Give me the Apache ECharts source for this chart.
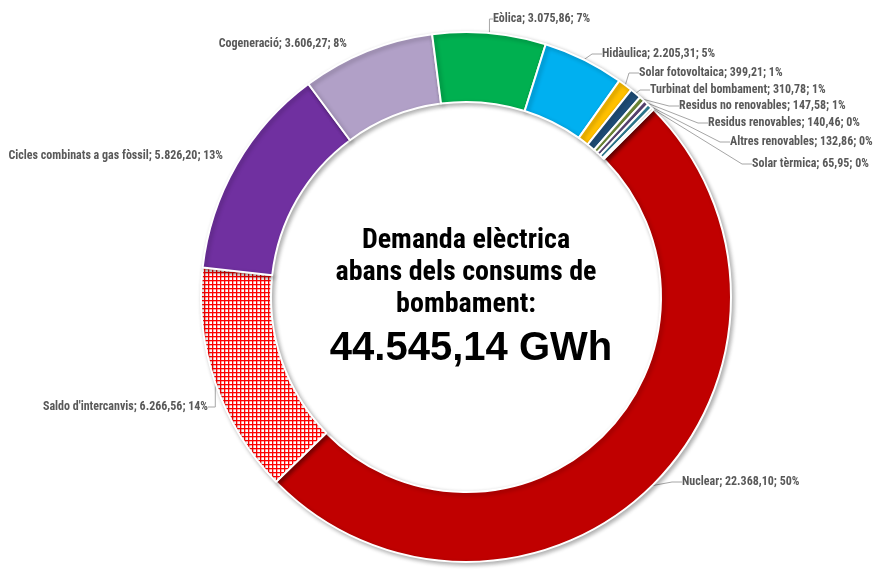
<!DOCTYPE html>
<html>
<head>
<meta charset="utf-8">
<script src="https://cdn.jsdelivr.net/npm/echarts@6/dist/echarts.min.js"></script>
<style>
html, body { margin: 0; background: #fff; }
#main { width: 875px; height: 572px; }
</style>
</head>
<body>
<div id="main"></div>
<script>
// dades del gràfic (GWh)
var noms = ['Nuclear', "Saldo d'intercanvis", 'Cicles combinats a gas fòssil', 'Cogeneració', 'Eòlica',
    'Hidàulica', 'Solar fotovoltaica', 'Turbinat del bombament', 'Residus no renovables',
    'Residus renovables', 'Altres renovables', 'Solar tèrmica'];
var valors = [22368.10, 6266.56, 5826.20, 3606.27, 3075.86, 2205.31, 399.21, 310.78, 147.58, 140.46, 132.86, 65.95];
var percents = ['50%', '14%', '13%', '8%', '7%', '5%', '1%', '1%', '1%', '0%', '0%', '0%'];
var colors = ['#C00000', null, '#7030A0', '#B1A0C7', '#00B050', '#00B0F0', '#FFC000', '#1F4E79',
    '#77933C', '#604A7B', '#31859C', '#DDD9C3'];

// on va cada etiqueta: [x, y, alineació]
var posEtiquetes = [[682, 482, 'left'], [208, 407, 'right'], [223, 156, 'right'], [347, 44, 'right'],
    [493, 19, 'left'], [602, 54, 'left'], [639, 73, 'left'], [650, 90, 'left'], [679, 106, 'left'],
    [708, 123, 'left'], [730, 142, 'left'], [752, 164, 'left']];
var senseLinia = [2, 3];

// trama quadriculada vermella per al saldo
var trama = document.createElement('canvas');
trama.width = 4;
trama.height = 4;
var ctx = trama.getContext('2d');
ctx.fillStyle = '#fff';
ctx.fillRect(0, 0, 4, 4);
ctx.fillStyle = '#FF0000';
ctx.fillRect(0, 0, 4, 1);
ctx.fillRect(0, 0, 1, 4);
ctx.fillStyle = 'rgba(255,0,0,0.3)';
ctx.fillRect(0, 1, 4, 1);
ctx.fillRect(1, 0, 1, 4);

function fmt(v) {
    var parts = v.toFixed(2).split('.');
    return parts[0].replace(/\B(?=(\d{3})+(?!\d))/g, '.') + ',' + parts[1];
}

var data = [];
noms.forEach(function (nom, i) {
    var item = {
        name: nom,
        value: valors[i],
        itemStyle: { color: colors[i] || { image: trama, repeat: 'repeat' } }
    };
    if (senseLinia.indexOf(i) >= 0) {
        item.labelLine = { show: false };
    }
    data.push(item);
});

var font = "'Roboto Condensed', 'DejaVu Sans Condensed', sans-serif";

var option = {
    animation: false,
    backgroundColor: '#fff',
    graphic: [{
        type: 'text',
        x: 466,
        y: 273,
        style: {
            text: 'Demanda elèctrica\nabans dels consums de\nbombament:',
            align: 'center',
            verticalAlign: 'middle',
            fontFamily: font,
            fontWeight: 'bold',
            fontSize: 28,
            lineHeight: 32,
            fill: '#000'
        }
    }, {
        type: 'text',
        x: 471,
        y: 349,
        style: {
            text: '44.545,14 GWh',
            align: 'center',
            verticalAlign: 'middle',
            fontFamily: "'Liberation Sans', Arial, sans-serif",
            fontWeight: 'bold',
            fontSize: 40,
            fill: '#000'
        }
    }],
    series: [{
        type: 'pie',
        center: [466, 297],
        radius: [195, 265],
        startAngle: 45,
        clockwise: true,
        avoidLabelOverlap: false,
        itemStyle: {
            borderColor: '#fff',
            borderWidth: 2,
            shadowBlur: 4,
            shadowOffsetX: 2,
            shadowOffsetY: 2,
            shadowColor: 'rgba(0,0,0,0.3)'
        },
        label: {
            show: true,
            position: 'outside',
            overflow: 'none',
            fontFamily: font,
            fontWeight: 'bold',
            fontSize: 12,
            color: '#595959',
            formatter: function (p) {
                return p.name + '; ' + fmt(p.value) + '; ' + percents[p.dataIndex];
            }
        },
        labelLine: {
            show: true,
            length: 10,
            length2: 10,
            lineStyle: { color: '#A6A6A6', width: 1 }
        },
        labelLayout: function (p) {
            var pos = posEtiquetes[p.dataIndex];
            return { x: pos[0], y: pos[1], align: pos[2], verticalAlign: 'middle' };
        },
        emphasis: { disabled: true },
        data: data
    }]
};

var myChart = echarts.init(document.getElementById('main'));
myChart.setOption(option);
</script>
</body>
</html>
